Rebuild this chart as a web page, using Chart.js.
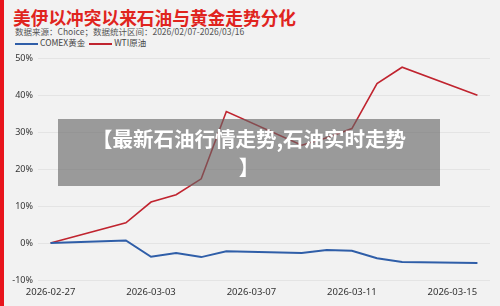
<!DOCTYPE html>
<html>
<head>
<meta charset="utf-8">
<script src="https://cdn.jsdelivr.net/npm/chart.js@4"></script>
<style>
  html, body { margin: 0; padding: 0; }
  body { width: 500px; height: 306px; background: #f2f2f2; position: relative; overflow: hidden;
         font-family: "Noto Sans CJK SC", "Noto Sans", sans-serif; }
  #bar { position: absolute; left: 0; top: 0; width: 4px; height: 306px; background: #e8141c; }
  #title { position: absolute; left: 13px; top: 4px; font-size: 17.7px; font-weight: bold; color: #e0241e; letter-spacing: 0; white-space: nowrap; }
  #sub { position: absolute; left: 15px; top: 25px; font-size: 8.5px; color: #555; white-space: nowrap; }
  #legend { position: absolute; left: 15px; top: 36px; font-size: 8.5px; color: #444; white-space: nowrap; }
  #legend span.ln { display: inline-block; width: 23px; height: 2px; vertical-align: middle; margin-right: 2px; }
  #wrap { position: absolute; left: 0; top: 48px; width: 500px; height: 258px; }
  #overlay { position: absolute; left: 58px; top: 119px; width: 382px; height: 67px; background: rgba(100,100,100,0.62);
             color: #fff; font-weight: bold; font-size: 20.5px; line-height: 28px; text-align: center; padding-top: 5px; box-sizing: border-box; }
</style>
</head>
<body>
<div id="bar"></div>
<div id="title">美伊以冲突以来石油与黄金走势分化</div>
<div id="sub">数据来源：Choice；数据统计区间：2026/02/07-2026/03/16</div>
<div id="legend"><span class="ln" style="background:#2f5ea8"></span>COMEX黄金 <span class="ln" style="background:#c0242f;margin-left:2px"></span>WTI原油</div>
<div id="wrap"><canvas id="c" width="500" height="258"></canvas></div>
<div id="overlay">【最新石油行情走势,石油实时走势<br>】</div>
<script>
// calendar days on the x axis; weekends have no data
const dates = ["2026-02-27","2026-02-28","2026-03-01","2026-03-02","2026-03-03","2026-03-04","2026-03-05","2026-03-06",
  "2026-03-07","2026-03-08","2026-03-09","2026-03-10","2026-03-11","2026-03-12","2026-03-13","2026-03-14","2026-03-15","2026-03-16"];
const gold = [0, null, null, 0.7, -3.7, -2.7, -3.8, -2.2, null, null, -2.7, -1.9, -2.1, -4.1, -5.1, null, null, -5.4];
const oil = [0, null, null, 5.5, 11.1, 13.1, 17.4, 35.6, null, null, 26.5, 28.5, 31.0, 43.2, 47.6, null, null, 40.0];
const seriesNames = ["COMEX黄金", "WTI原油"];
const yTicks = [-10, 0, 10, 20, 30, 40, 50];

new Chart(document.getElementById('c').getContext('2d'), {
  type: 'line',
  data: {
    labels: dates,
    datasets: [
      { label: seriesNames[0], data: gold, borderColor: '#2f5ea8', borderWidth: 2, pointRadius: 0, spanGaps: true, tension: 0 },
      { label: seriesNames[1], data: oil, borderColor: '#c0242f', borderWidth: 1.6, pointRadius: 0, spanGaps: true, tension: 0 }
    ]
  },
  options: {
    responsive: false,
    animation: false,
    layout: { padding: { top: 8, right: 10, bottom: 4, left: 0 } },
    plugins: { legend: { display: false }, tooltip: { enabled: false } },
    scales: {
      x: {
        offset: true,
        grid: { display: false, drawTicks: false },
        border: { display: false },
        afterFit: s => { s.height = 22; },
        ticks: {
          autoSkip: false, maxRotation: 0, padding: 7, color: '#333',
          font: { size: 9.5, family: 'Noto Sans' },
          callback: (v, i) => i % 4 === 0 ? dates[i] : ''
        }
      },
      y: {
        min: yTicks[0], max: yTicks[yTicks.length - 1],
        afterBuildTicks: s => { s.ticks = yTicks.map(v => ({ value: v })); },
        afterFit: s => { s.width = 38; },
        grid: { color: '#e4e4e4', drawTicks: false },
        border: { display: false },
        ticks: { padding: 5, color: '#333', font: { size: 9, family: 'Noto Sans' }, callback: v => v + '%' }
      }
    }
  }
});
</script>
</body>
</html>
